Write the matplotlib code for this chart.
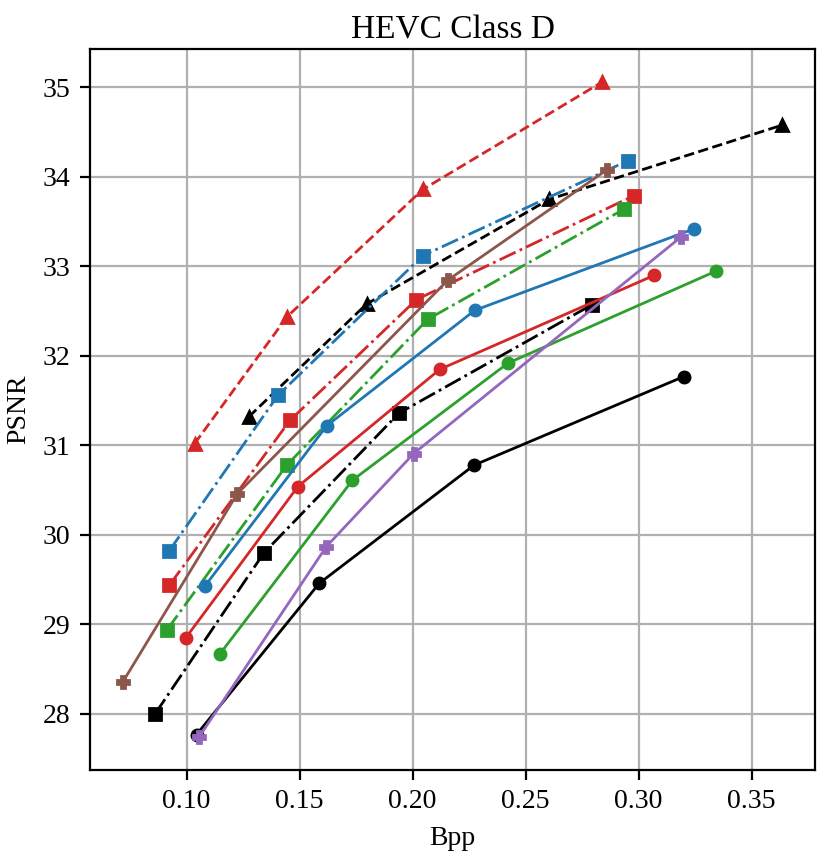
import matplotlib
matplotlib.use("Agg")
import matplotlib.pyplot as plt

plt.rcParams['font.family'] = ['Liberation Serif', 'DejaVu Serif']
plt.rcParams['mathtext.fontset'] = 'stix'

# Series data (Bpp, PSNR)
red_dash_tri_x = [0.1035, 0.1445, 0.2045, 0.2838]
red_dash_tri_y = [31.02, 32.44, 33.86, 35.06]

black_dash_tri_x = [0.1275, 0.1796, 0.2605, 0.3636]
black_dash_tri_y = [31.32, 32.58, 33.75, 34.58]

blue_dd_sq_x = [0.0922, 0.1404, 0.2045, 0.2951]
blue_dd_sq_y = [29.82, 31.56, 33.12, 34.18]

brown_P_x = [0.0718, 0.1224, 0.2157, 0.2860]
brown_P_y = [28.36, 30.46, 32.85, 34.08]

red_dd_sq_x = [0.0924, 0.1457, 0.2017, 0.2978]
red_dd_sq_y = [29.44, 31.28, 32.63, 33.79]

green_dd_sq_x = [0.0913, 0.1443, 0.2067, 0.2935]
green_dd_sq_y = [28.94, 30.78, 32.41, 33.64]

blue_o_x = [0.1081, 0.1620, 0.2275, 0.3245]
blue_o_y = [29.43, 31.22, 32.51, 33.42]

red_o_x = [0.0996, 0.1492, 0.2120, 0.3068]
red_o_y = [28.85, 30.54, 31.85, 32.90]

black_dd_sq_x = [0.0860, 0.1342, 0.1939, 0.2792]
black_dd_sq_y = [28.00, 29.80, 31.36, 32.57]

green_o_x = [0.1147, 0.1733, 0.2422, 0.3344]
green_o_y = [28.67, 30.61, 31.92, 32.95]

black_o_x = [0.1044, 0.1587, 0.2272, 0.3200]
black_o_y = [27.77, 29.46, 30.78, 31.77]

purple_P_x = [0.1054, 0.1618, 0.2005, 0.3188]
purple_P_y = [27.74, 29.87, 30.91, 33.33]

fig = plt.figure(figsize=(4.15, 4.29), dpi=200)
ax = fig.add_axes([0.1084, 0.1026, 0.9823 - 0.1084, 0.9425 - 0.1026])

lw = 1.0
ms = 4

ax.plot(red_dash_tri_x, red_dash_tri_y, '--', marker='^', color='#d62728', lw=lw, ms=ms)
ax.plot(black_dash_tri_x, black_dash_tri_y, '--', marker='^', color='black', lw=lw, ms=ms)
ax.plot(blue_dd_sq_x, blue_dd_sq_y, '-.', marker='s', color='#1f77b4', lw=lw, ms=ms)
ax.plot(red_dd_sq_x, red_dd_sq_y, '-.', marker='s', color='#d62728', lw=lw, ms=ms)
ax.plot(green_dd_sq_x, green_dd_sq_y, '-.', marker='s', color='#2ca02c', lw=lw, ms=ms)
ax.plot(black_dd_sq_x, black_dd_sq_y, '-.', marker='s', color='black', lw=lw, ms=ms)
ax.plot(blue_o_x, blue_o_y, '-', marker='o', color='#1f77b4', lw=lw, ms=ms)
ax.plot(red_o_x, red_o_y, '-', marker='o', color='#d62728', lw=lw, ms=ms)
ax.plot(green_o_x, green_o_y, '-', marker='o', color='#2ca02c', lw=lw, ms=ms)
ax.plot(black_o_x, black_o_y, '-', marker='o', color='black', lw=lw, ms=ms)
ax.plot(brown_P_x, brown_P_y, '-', marker='P', color='#8c564b', lw=lw, ms=ms)
ax.plot(purple_P_x, purple_P_y, '-', marker='P', color='#9467bd', lw=lw, ms=ms)

ax.grid(True, color='#b0b0b0', lw=0.8)
ax.set_axisbelow(True)
ax.set_title('HEVC Class D', fontsize=12, pad=4)
ax.set_xlabel('Bpp', fontsize=10)
ax.set_ylabel('PSNR', fontsize=10)
ax.tick_params(labelsize=10)

fig.savefig('out.png', dpi=200)
